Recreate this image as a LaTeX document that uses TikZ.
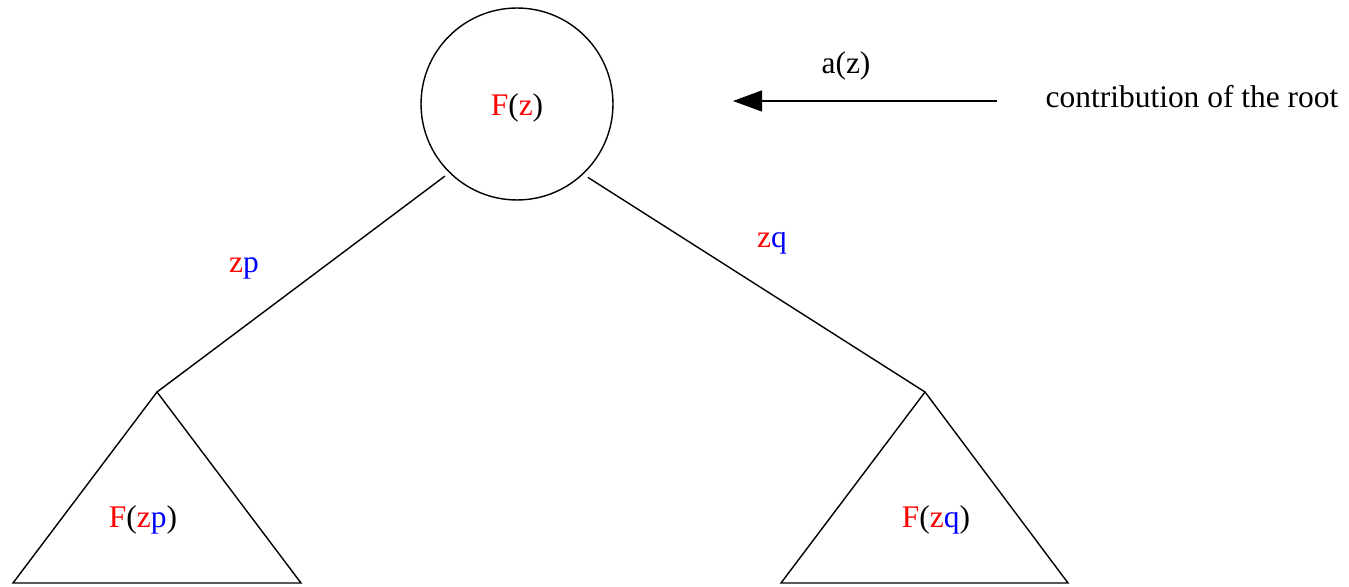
\documentclass[tikz,border=0pt]{standalone}
\usepackage{fontspec}
\setmainfont{Liberation Serif}
\usetikzlibrary{arrows.meta,positioning}
\definecolor{TreeRed}{RGB}{255,0,0}
\definecolor{TreeBlue}{RGB}{0,0,255}
\newcommand{\zr}{\textcolor{TreeRed}{z}}
\newcommand{\Fr}{\textcolor{TreeRed}{F}}

\begin{document}
\begin{tikzpicture}[
  x=0.02cm,y=-0.02cm,
  line width=0.8pt,
  every node/.style={font=\fontsize{17.9}{21}\selectfont,inner sep=0pt},
  rootnode/.style={draw,circle,minimum size=3.84cm,outer sep=0.12cm},
  arrow/.style={-{Triangle[length=0.58cm,width=0.42cm]}}
]
\useasboundingbox (0,0) rectangle (1349,587);
\node[rootnode] (root) at (517,104) {};
\node (rootlabel) at (517,108) {\Fr(\zr)};
\coordinate (lefttop) at (157,392);
\coordinate (leftbl) at (13,583);
\coordinate (leftbr) at (301,583);
\coordinate (righttop) at (925,392);
\coordinate (rightbl) at (781,583);
\coordinate (rightbr) at (1068,583);
\draw (root.225) -- (lefttop);
\draw (root.314) -- (righttop);
\draw (lefttop) -- (leftbl) -- (leftbr) -- cycle;
\draw (righttop) -- (rightbl) -- (rightbr) -- cycle;
\node (leftsub) at (143,520) {\Fr(\zr\textcolor{TreeBlue}{p})};
\node (rightsub) at (936,520) {\Fr(\zr\textcolor{TreeBlue}{q})};
\node (pedge) at (244,268) {\zr\textcolor{TreeBlue}{p}};
\node (qedge) at (772,243) {\zr\textcolor{TreeBlue}{q}};
% contribution of the root
\coordinate (tail) at (997,101);
\coordinate (tip) at (733,101);
\draw[arrow] (tail) -- (tip);
\node (az) at (846,66) {a(z)};
\node[anchor=west] (contrib) at (1045,97) {contribution of the root};
\end{tikzpicture}
\end{document}
